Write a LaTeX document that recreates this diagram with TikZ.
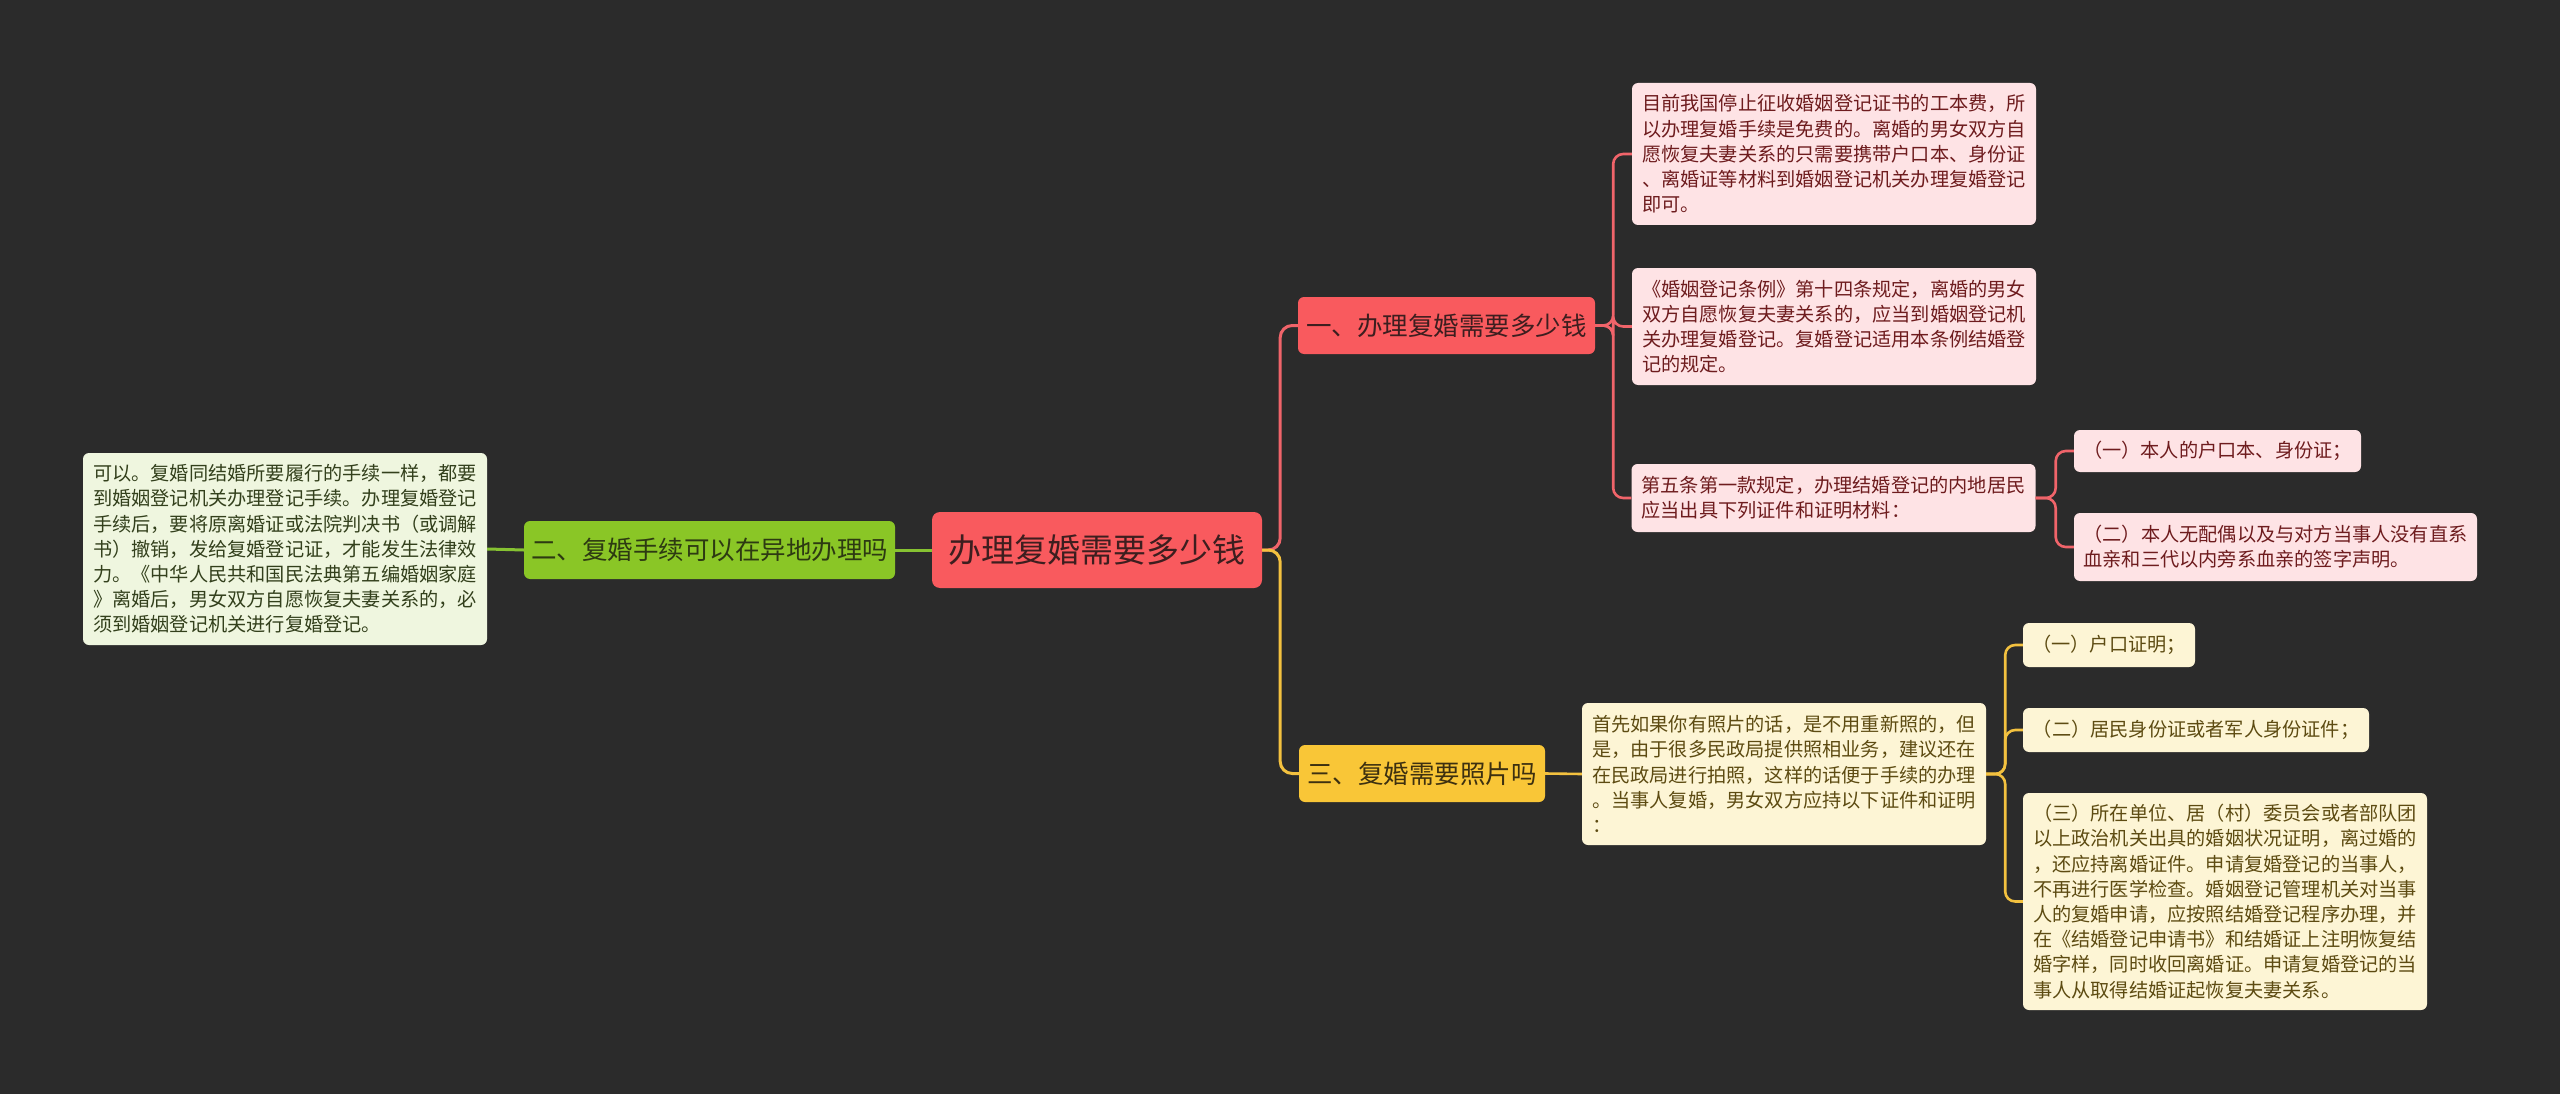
\documentclass[tikz,border=0pt]{standalone}
\usepackage{fontspec}
\newfontfamily\cjk{Noto Sans CJK SC}
\definecolor{bg}{HTML}{2B2B2B}
\definecolor{rootfill}{HTML}{F95A5E}
\definecolor{roottext}{HTML}{3D1E1F}
\definecolor{redline}{HTML}{F0646A}
\definecolor{redleaf}{HTML}{FEE3E5}
\definecolor{redtext}{HTML}{6E1C1E}
\definecolor{greenfill}{HTML}{8AC626}
\definecolor{greentext}{HTML}{2D3A12}
\definecolor{greenline}{HTML}{86C232}
\definecolor{greenleaf}{HTML}{EFF6DF}
\definecolor{greenleaftext}{HTML}{33401C}
\definecolor{yellowfill}{HTML}{F9C637}
\definecolor{yellowtext}{HTML}{3D3010}
\definecolor{yellowline}{HTML}{F3C13F}
\definecolor{yellowleaf}{HTML}{FDF5D5}
\definecolor{yellowleaftext}{HTML}{5D4B12}
\tikzset{
  box/.style={rectangle, rounded corners=6pt, inner xsep=0pt, inner ysep=0pt, align=left},
  rootbox/.style={box, fill=rootfill, text=roottext, font=\cjk\fontsize{33}{40}\selectfont, rounded corners=8pt, align=center},
  branchbox/.style={box, font=\cjk\fontsize{25.5}{30}\selectfont, align=center},
  leafbox/.style={box, font=\cjk\fontsize{19.2}{25.2}\selectfont},
  redleafbox/.style={leafbox, fill=redleaf, text=redtext},
  greenleafbox/.style={leafbox, fill=greenleaf, text=greenleaftext},
  yellowleafbox/.style={leafbox, fill=yellowleaf, text=yellowleaftext},
  conn/.style={line width=3pt, rounded corners=12pt},
  subconn/.style={line width=2.6pt, rounded corners=10pt}
}
\begin{document}
\begin{tikzpicture}[x=1pt,y=-1pt]
\fill[bg] (0,0) rectangle (2560,1094);
\useasboundingbox (0,0) rectangle (2560,1094);

% root
\node[rootbox, minimum width=330pt, minimum height=76pt] (root) at (1097,550) {办理复婚需要多少钱};

% branches
\node[branchbox, fill=rootfill, text=roottext, minimum width=297pt, minimum height=57pt] (rb) at (1446.5,325.5) {一、办理复婚需要多少钱};
\node[branchbox, fill=greenfill, text=greentext, minimum width=371pt, minimum height=58pt] (gb) at (709.5,550) {二、复婚手续可以在异地办理吗};
\node[branchbox, fill=yellowfill, text=yellowtext, minimum width=246pt, minimum height=57pt] (yb) at (1422,773.5) {三、复婚需要照片吗};

% green leaf
\node[greenleafbox, minimum width=404pt, minimum height=192pt] (gl) at (285,549) {可以。复婚同结婚所要履行的手续一样，都要\\到婚姻登记机关办理登记手续。办理复婚登记\\手续后，要将原离婚证或法院判决书（或调解\\书）撤销，发给复婚登记证，才能发生法律效\\力。《中华人民共和国民法典第五编婚姻家庭\\》离婚后，男女双方自愿恢复夫妻关系的，必\\须到婚姻登记机关进行复婚登记。};

% red leaves
\node[redleafbox, minimum width=404pt, minimum height=142pt] (rl1) at (1834,154) {目前我国停止征收婚姻登记证书的工本费，所\\以办理复婚手续是免费的。离婚的男女双方自\\愿恢复夫妻关系的只需要携带户口本、身份证\\、离婚证等材料到婚姻登记机关办理复婚登记\\即可。};
\node[redleafbox, minimum width=404pt, minimum height=117pt] (rl2) at (1834,326.5) {《婚姻登记条例》第十四条规定，离婚的男女\\双方自愿恢复夫妻关系的，应当到婚姻登记机\\关办理复婚登记。复婚登记适用本条例结婚登\\记的规定。};
\node[redleafbox, minimum width=404pt, minimum height=68pt] (rl3) at (1833.5,498) {第五条第一款规定，办理结婚登记的内地居民\\应当出具下列证件和证明材料：};
\node[redleafbox, minimum width=287pt, minimum height=42pt] (rs1) at (2217.5,451) {（一）本人的户口本、身份证；};
\node[redleafbox, minimum width=403pt, minimum height=68pt] (rs2) at (2275.5,547) {（二）本人无配偶以及与对方当事人没有直系\\血亲和三代以内旁系血亲的签字声明。};

% yellow leaves
\node[yellowleafbox, minimum width=404pt, minimum height=142pt] (yl) at (1784,774) {首先如果你有照片的话，是不用重新照的，但\\是，由于很多民政局提供照相业务，建议还在\\在民政局进行拍照，这样的话便于手续的办理\\。当事人复婚，男女双方应持以下证件和证明\\：};
\node[yellowleafbox, minimum width=172pt, minimum height=44pt] (ys1) at (2109,645) {（一）户口证明；};
\node[yellowleafbox, minimum width=346pt, minimum height=44pt] (ys2) at (2196,730) {（二）居民身份证或者军人身份证件；};
\node[yellowleafbox, minimum width=404pt, minimum height=217pt] (ys3) at (2225,901.5) {（三）所在单位、居（村）委员会或者部队团\\以上政治机关出具的婚姻状况证明，离过婚的\\，还应持离婚证件。申请复婚登记的当事人，\\不再进行医学检查。婚姻登记管理机关对当事\\人的复婚申请，应按照结婚登记程序办理，并\\在《结婚登记申请书》和结婚证上注明恢复结\\婚字样，同时收回离婚证。申请复婚登记的当\\事人从取得结婚证起恢复夫妻关系。};

% connectors
\draw[conn, redline] (root.east) -- ++(18,0) |- (rb.west);
\draw[conn, yellowline] (root.east) -- ++(18,0) |- (yb.west);
\draw[conn, greenline] (root.west) -- (gb.east);
\draw[conn, greenline] (gb.west) -- (gl.east);

\draw[subconn, redline] (rb.east) -- ++(18,0) |- (rl1.west);
\draw[subconn, redline] (rb.east) -- ++(18,0) |- (rl2.west);
\draw[subconn, redline] (rb.east) -- ++(18,0) |- (rl3.west);
\draw[subconn, redline] (rl3.east) -- ++(20,0) |- (rs1.west);
\draw[subconn, redline] (rl3.east) -- ++(20,0) |- (rs2.west);

\draw[subconn, yellowline] (yb.east) -- (yl.west);
\draw[subconn, yellowline] (yl.east) -- ++(19,0) |- (ys1.west);
\draw[subconn, yellowline] (yl.east) -- ++(19,0) |- (ys2.west);
\draw[subconn, yellowline] (yl.east) -- ++(19,0) |- (ys3.west);
\end{tikzpicture}
\end{document}
